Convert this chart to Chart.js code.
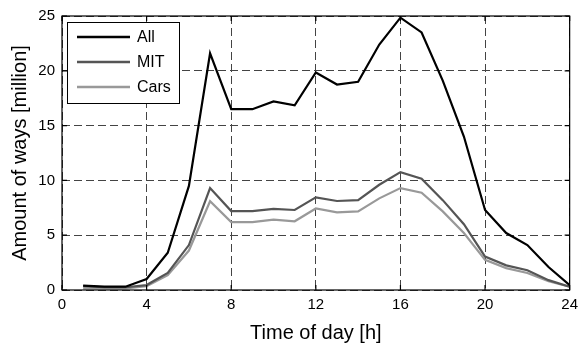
<!DOCTYPE html>
<html><head><meta charset="utf-8">
<script src="https://cdn.jsdelivr.net/npm/chart.js@4/dist/chart.umd.min.js"></script>
<style>html,body{margin:0;padding:0;background:#fff}#wrap{width:584px;height:345px}</style>
</head><body><div id="wrap"><canvas id="c" width="584" height="345"></canvas></div>
<script>
const hours = [1,2,3,4,5,6,7,8,9,10,11,12,13,14,15,16,17,18,19,20,21,22,23,24];
const allWays = [0.4,0.3,0.3,1.0,3.4,9.5,21.6,16.5,16.5,17.2,16.85,19.85,18.75,19.0,22.4,24.85,23.5,19.1,14.0,7.3,5.2,4.1,2.1,0.45];
const mitWays = [0.35,0.25,0.25,0.45,1.55,4.1,9.3,7.2,7.2,7.4,7.3,8.45,8.12,8.2,9.6,10.75,10.15,8.2,6.0,3.05,2.25,1.8,0.9,0.3];
const carWays = [0.15,0.15,0.15,0.35,1.35,3.6,8.1,6.2,6.2,6.42,6.27,7.44,7.08,7.17,8.36,9.3,8.87,7.17,5.2,2.75,2.0,1.55,0.8,0.3];
const xTicks = [0,4,8,12,16,20,24];
const yTicks = [0,5,10,15,20,25];
const seriesNames = ['All','MIT','Cars'];
const seriesColors = ['#000000','#555555','#999999'];

const FONT = 'Liberation Sans, Arial, sans-serif';
const toPts = arr => hours.map((h,i)=>({x:h,y:arr[i]}));

const frame = {
  id:'frame',
  afterDatasetsDraw(chart){
    const {ctx, chartArea:a} = chart;
    ctx.save();
    ctx.strokeStyle='#000'; ctx.lineWidth=1.2; ctx.setLineDash([]);
    ctx.strokeRect(a.left, a.top, a.right-a.left, a.bottom-a.top);
    const xs = chart.scales.x, ys = chart.scales.y;
    ctx.beginPath();
    xTicks.forEach(v=>{const p=xs.getPixelForValue(v); ctx.moveTo(p,a.bottom); ctx.lineTo(p,a.bottom-5); ctx.moveTo(p,a.top); ctx.lineTo(p,a.top+5);});
    yTicks.forEach(v=>{const p=ys.getPixelForValue(v); ctx.moveTo(a.left,p); ctx.lineTo(a.left+5,p); ctx.moveTo(a.right,p); ctx.lineTo(a.right-5,p);});
    ctx.stroke();
    // legend
    const lx=a.left+5, ly=a.top+6, lw=112, lh=81;
    ctx.fillStyle='#fff'; ctx.fillRect(lx,ly,lw,lh);
    ctx.strokeStyle='#000'; ctx.lineWidth=1; ctx.strokeRect(lx+0.5,ly+0.5,lw,lh);
    ctx.font='16px '+FONT; ctx.textBaseline='middle'; ctx.textAlign='left';
    chart.data.datasets.forEach((d,i)=>{
      const yy = ly+15+i*25;
      ctx.strokeStyle=d.borderColor; ctx.lineWidth=2.5;
      ctx.beginPath(); ctx.moveTo(lx+10,yy); ctx.lineTo(lx+63,yy); ctx.stroke();
      ctx.fillStyle='#000'; ctx.fillText(d.label, lx+70, yy+1);
    });
    ctx.restore();
  }
};

new Chart(document.getElementById('c'), {
  type:'line',
  data:{datasets:[
    {label:seriesNames[0], data:toPts(allWays), borderColor:seriesColors[0], borderWidth:2.2, pointRadius:0, fill:false, tension:0},
    {label:seriesNames[1], data:toPts(mitWays), borderColor:seriesColors[1], borderWidth:2.2, pointRadius:0, fill:false, tension:0},
    {label:seriesNames[2], data:toPts(carWays), borderColor:seriesColors[2], borderWidth:2.2, pointRadius:0, fill:false, tension:0}
  ]},
  options:{
    responsive:false, animation:false, devicePixelRatio:1,
    layout:{padding:{top:11,right:7,left:0,bottom:0}},
    plugins:{legend:{display:false}, tooltip:{enabled:false}},
    scales:{
      x:{type:'linear', min:0, max:24,
        afterBuildTicks(s){ s.ticks = xTicks.map(v=>({value:v})); },
        afterFit(s){ s.height = 55; },
        grid:{color:'#444', lineWidth:1, drawTicks:false, tickLength:0},
        border:{display:false, dash:[8,4]},
        ticks:{color:'#000', font:{family:FONT,size:15}, padding:6, maxRotation:0},
        title:{display:true, text:'Time of day [h]', color:'#000', font:{family:FONT,size:20}, padding:{top:4,bottom:0}}
      },
      y:{type:'linear', min:0, max:25,
        afterBuildTicks(s){ s.ticks = yTicks.map(v=>({value:v})); },
        afterFit(s){ s.width = 62; },
        grid:{color:'#444', lineWidth:1, drawTicks:false, tickLength:0},
        border:{display:false, dash:[8,4]},
        ticks:{color:'#000', font:{family:FONT,size:15}, padding:7},
        title:{display:true, text:'Amount of ways [million]', color:'#000', font:{family:FONT,size:20}, padding:{top:8,bottom:0}}
      }
    }
  },
  plugins:[frame]
});
</script></body></html>
